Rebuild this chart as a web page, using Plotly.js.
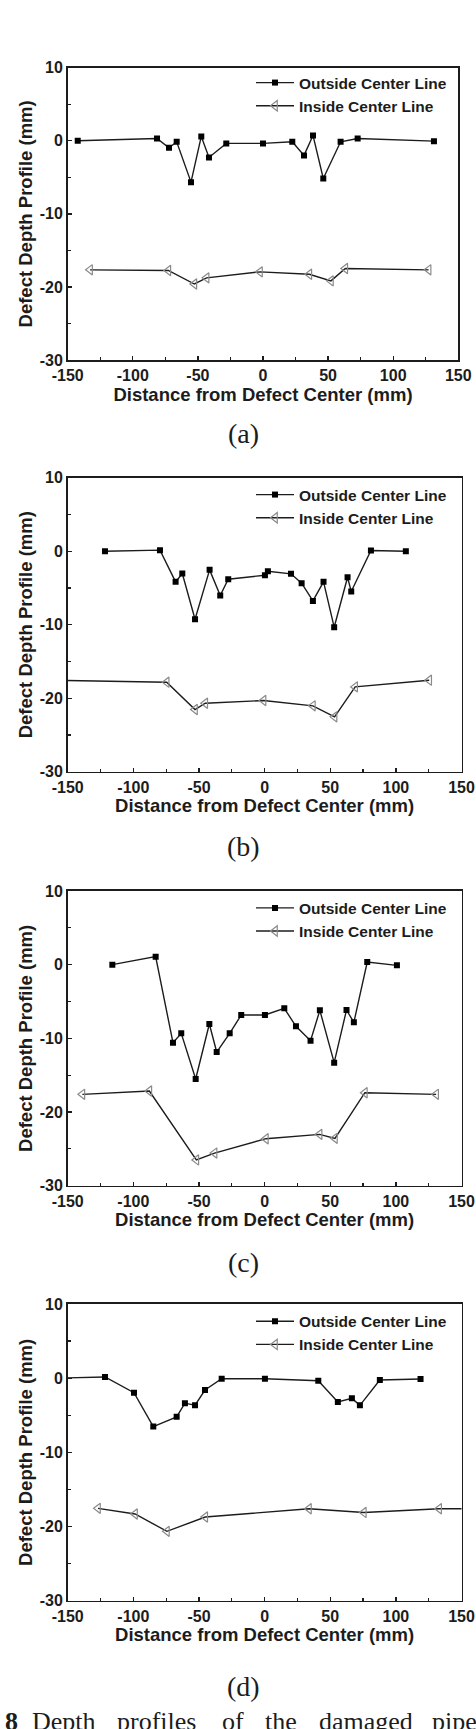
<!DOCTYPE html>
<html>
<head>
<meta charset="utf-8">
<script src="https://cdn.plot.ly/plotly-3.0.1.min.js"></script>
<style>
  html, body { margin: 0; padding: 0; background: #fff; }
  #chart { width: 476px; height: 1729px; }
</style>
</head>
<body>
<div id="chart"></div>
<script>
// ---------- Data ----------
// Panel (a)
const aOutX = [-142.3, -81.4, -72.2, -66.3, -55.3, -47.4, -41.5, -28.2, 0, 22.5, 31.5, 38.4, 46.3, 59.6, 72.7, 131.3];
const aOutY = [0.0, 0.32, -0.96, -0.14, -5.66, 0.59, -2.28, -0.36, -0.36, -0.14, -2.0, 0.73, -5.16, -0.14, 0.32, -0.05];
const aInX = [-132.8, -72.7, -52.7, -43.3, -2.3, 35.6, 52.2, 63.2, 127.2];
const aInY = [-17.66, -17.75, -19.6, -18.76, -17.94, -18.26, -19.17, -17.48, -17.66];
// Panel (b)
const bOutX = [-121.6, -79.7, -67.8, -62.7, -53.0, -41.9, -33.8, -27.7, 0.25, 2.5, 20.1, 28.2, 36.8, 44.9, 53.0, 63.2, 66.0, 81.0, 107.6];
const bOutY = [0.0, 0.14, -4.17, -3.04, -9.25, -2.54, -6.03, -3.81, -3.27, -2.72, -3.08, -4.35, -6.76, -4.17, -10.34, -3.54, -5.49, 0.09, 0.0];
const bInX = [-165, -74.6, -53.0, -45.2, -0.8, 36.8, 53.3, 69.0, 125.4];
const bInY = [-17.55, -17.82, -21.54, -20.68, -20.32, -21.04, -22.54, -18.46, -17.55];
// Panel (c)
const cOutX = [-116, -83, -69.8, -63.5, -52.5, -42.1, -36.5, -26.6, -17.8, 0.25, 15, 23.9, 35.0, 42.1, 53.0, 62.4, 68.0, 78.2, 100.8];
const cOutY = [0.0, 1.09, -10.59, -9.32, -15.52, -8.05, -11.86, -9.32, -6.83, -6.83, -5.93, -8.37, -10.32, -6.2, -13.3, -6.15, -7.83, 0.36, -0.09];
const cInX = [-138.8, -87.8, -52.0, -38.1, 1, 41.9, 53.6, 76.4, 130.7];
const cInY = [-17.6, -17.15, -26.5, -25.57, -23.62, -23.03, -23.57, -17.38, -17.6];
// Panel (d)
const dOutX = [-160, -121.6, -99.5, -84.8, -67.0, -60.7, -53.0, -45.4, -32.7, 0.25, 40.9, 55.8, 66.5, 72.6, 87.8, 118.8];
const dOutY = [0.0, 0.16, -1.96, -6.52, -5.21, -3.37, -3.64, -1.6, -0.07, -0.07, -0.34, -3.21, -2.72, -3.66, -0.25, -0.11];
const dInX = [-126.9, -98.7, -74.4, -45.2, 33.8, 75.6, 133, 165];
const dInY = [-17.55, -18.31, -20.65, -18.72, -17.6, -18.1, -17.6, -17.6];

const seriesNames = ['Outside Center Line', 'Inside Center Line'];
const panelLabels = ['(a)', '(b)', '(c)', '(d)'];
const xTitle = 'Distance from Defect Center (mm)';
const yTitle = 'Defect Depth Profile (mm)';
const xTickVals = [-150, -100, -50, 0, 50, 100, 150];
const xTickText = ['-150', '-100', '-50', '0', '50', '100', '150'];
const yTickVals = [-30, -20, -10, 0, 10];
const yTickText = ['-30', '-20', '-10', '0', '10'];
const captionWords = ['8', 'Depth', 'profiles', 'of', 'the', 'damaged', 'pipe'];

// ---------- Layout geometry (pixels in the 476 x 1729 page) ----------
const W = 476, H = 1729;
const panels = [
  {outX: aOutX, outY: aOutY, inX: aInX, inY: aInY, left: 67.7, right: 458.3, top: 67.7, bottom: 360, legTop: 83, labelY: 434},
  {outX: bOutX, outY: bOutY, inX: bInX, inY: bInY, left: 67.7, right: 461.5, top: 477.7, bottom: 771.7, legTop: 495, labelY: 846},
  {outX: cOutX, outY: cOutY, inX: cInX, inY: cInY, left: 67.7, right: 461.5, top: 891, bottom: 1185.7, legTop: 908.3, labelY: 1262},
  {outX: dOutX, outY: dOutY, inX: dInX, inY: dInY, left: 67.7, right: 461.5, top: 1304, bottom: 1600.7, legTop: 1321.7, labelY: 1686}
];
const captionX = [3, 30, 115, 220, 263, 317, 430];

const ink = '#1c1c1c';
const sans = 'Liberation Sans, Arial, Helvetica, sans-serif';
const serif = 'Liberation Serif, Times New Roman, serif';

const data = [];
const layout = {
  width: W, height: H,
  margin: {l: 0, r: 0, t: 0, b: 0},
  paper_bgcolor: '#ffffff',
  plot_bgcolor: '#ffffff',
  showlegend: true,
  annotations: []
};

panels.forEach((p, i) => {
  const n = i + 1;
  const xa = n === 1 ? 'x' : 'x' + n;
  const ya = n === 1 ? 'y' : 'y' + n;
  const leg = n === 1 ? 'legend' : 'legend' + n;
  data.push({
    type: 'scatter', mode: 'lines+markers', name: seriesNames[0],
    x: p.outX, y: p.outY, xaxis: xa, yaxis: ya, legend: leg,
    line: {color: ink, width: 1.4},
    marker: {symbol: 'square', size: 6, color: '#000', line: {width: 0}}
  });
  data.push({
    type: 'scatter', mode: 'lines+markers', name: seriesNames[1],
    x: p.inX, y: p.inY, xaxis: xa, yaxis: ya, legend: leg,
    line: {color: ink, width: 1.4},
    marker: {symbol: 'triangle-left-open', size: 9, color: '#8a8a8a', line: {width: 1.2, color: '#8a8a8a'}}
  });
  const axCommon = {
    showline: true, mirror: true, linecolor: ink, linewidth: 1.6,
    showgrid: false, zeroline: false,
    ticks: 'inside', ticklen: 4, tickwidth: 1.3, tickcolor: ink,
    tickmode: 'array',
    tickfont: {family: sans, size: 16, color: ink, weight: 'bold'}
  };
  layout['xaxis' + (n === 1 ? '' : n)] = Object.assign({}, axCommon, {
    domain: [p.left / W, p.right / W],
    anchor: ya, range: [-150, 150],
    tickvals: xTickVals, ticktext: xTickText,
    minor: {ticks: 'inside', dtick: 25, tick0: 0, ticklen: 3, tickwidth: 1.2, tickcolor: ink},
    title: {text: xTitle, font: {family: sans, size: 18.5, color: ink, weight: 'bold'}, standoff: 2}
  });
  layout['yaxis' + (n === 1 ? '' : n)] = Object.assign({}, axCommon, {
    domain: [1 - p.bottom / H, 1 - p.top / H],
    anchor: xa, range: [-30, 10],
    tickvals: yTickVals, ticktext: yTickText,
    minor: {ticks: 'inside', dtick: 5, tick0: 0, ticklen: 3, tickwidth: 1.2, tickcolor: ink},
    title: {text: yTitle, font: {family: sans, size: 18.5, color: ink, weight: 'bold'}, standoff: 2}
  });
  layout[leg] = {
    x: 251 / W, xanchor: 'left',
    y: 1 - (p.legTop - 17) / H, yanchor: 'top',
    bgcolor: 'rgba(0,0,0,0)', borderwidth: 0,
    font: {family: sans, size: 15.5, color: ink, weight: 'bold'},
    itemwidth: 38, tracegroupgap: 0
  };
  layout.annotations.push({
    text: panelLabels[i], xref: 'paper', yref: 'paper',
    x: 244 / W, y: 1 - p.labelY / H, xanchor: 'center', yanchor: 'middle',
    showarrow: false, font: {family: serif, size: 28, color: ink}
  });
});

captionWords.forEach((w, k) => {
  layout.annotations.push({
    text: k === 0 ? '<b>' + w + '</b>' : w,
    xref: 'paper', yref: 'paper',
    x: captionX[k] / W, y: 1 - 1705 / H, xanchor: 'left', yanchor: 'top',
    showarrow: false, font: {family: serif, size: 26, color: ink}
  });
});

Plotly.newPlot('chart', data, layout, {displayModeBar: false, staticPlot: true});
</script>
</body>
</html>
